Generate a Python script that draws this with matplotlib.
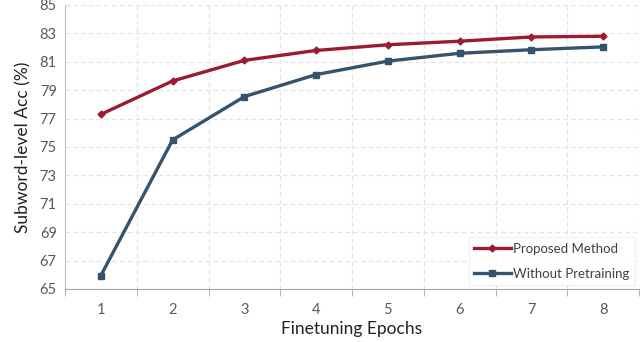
import numpy as np
import matplotlib.pyplot as plt

epochs = [1, 2, 3, 4, 5, 6, 7, 8]
proposed = [77.3, 79.65, 81.1, 81.8, 82.2, 82.45, 82.75, 82.8]
no_pretrain = [65.95, 75.5, 78.55, 80.1, 81.05, 81.6, 81.85, 82.05]

plt.rcParams['font.family'] = ['Lato', 'DejaVu Sans']

fig = plt.figure(figsize=(6.4, 3.42), dpi=100)
ax = fig.add_axes([65 / 640, 1 - 289 / 342, 574 / 640, 284 / 342])

red = '#9b1b30'
blue = '#35536c'
ax.plot(epochs, proposed, color=red, lw=2.4, marker='D', ms=3.5, label='Proposed Method')
ax.plot(epochs, no_pretrain, color=blue, lw=2.4, marker='s', ms=4.5, label='Without Pretraining')

ax.set_xlim(0.5, 8.5)
ax.set_ylim(65, 85)
ax.set_yticks(np.arange(65, 86, 2))
ax.set_xticks(epochs)
ax.set_xticks(np.arange(0.5, 8.6, 1), minor=True)
ax.tick_params(axis='x', which='major', length=0, pad=10, labelsize=10.5, labelcolor='#595959')
ax.tick_params(axis='x', which='minor', length=5, color='#a6a6a6')
ax.tick_params(axis='y', length=0, pad=6, labelsize=10.5, labelcolor='#595959')

ax.grid(True, axis='y', ls=(0, (4, 3)), color='#e3e3e3', lw=0.8)
ax.grid(True, axis='x', which='minor', ls=(0, (4, 3)), color='#e3e3e3', lw=0.8)
for s in ['top', 'right']:
    ax.spines[s].set_visible(False)
ax.spines['left'].set_color('#bfbfbf')
ax.spines['bottom'].set_color('#a6a6a6')

ax.set_xlabel('Finetuning Epochs', fontsize=12.5, color='#222222', labelpad=3)
ax.set_ylabel('Subword-level Acc (%)', fontsize=12.5, color='#222222', labelpad=6)

leg = ax.legend(loc='lower right', fontsize=9.5, frameon=True, fancybox=False,
                edgecolor='#eeeeee', handlelength=2.8, handletextpad=0.2,
                labelspacing=1.0, borderaxespad=0.3, labelcolor='#404040')

fig.savefig('out.png', dpi=100)
